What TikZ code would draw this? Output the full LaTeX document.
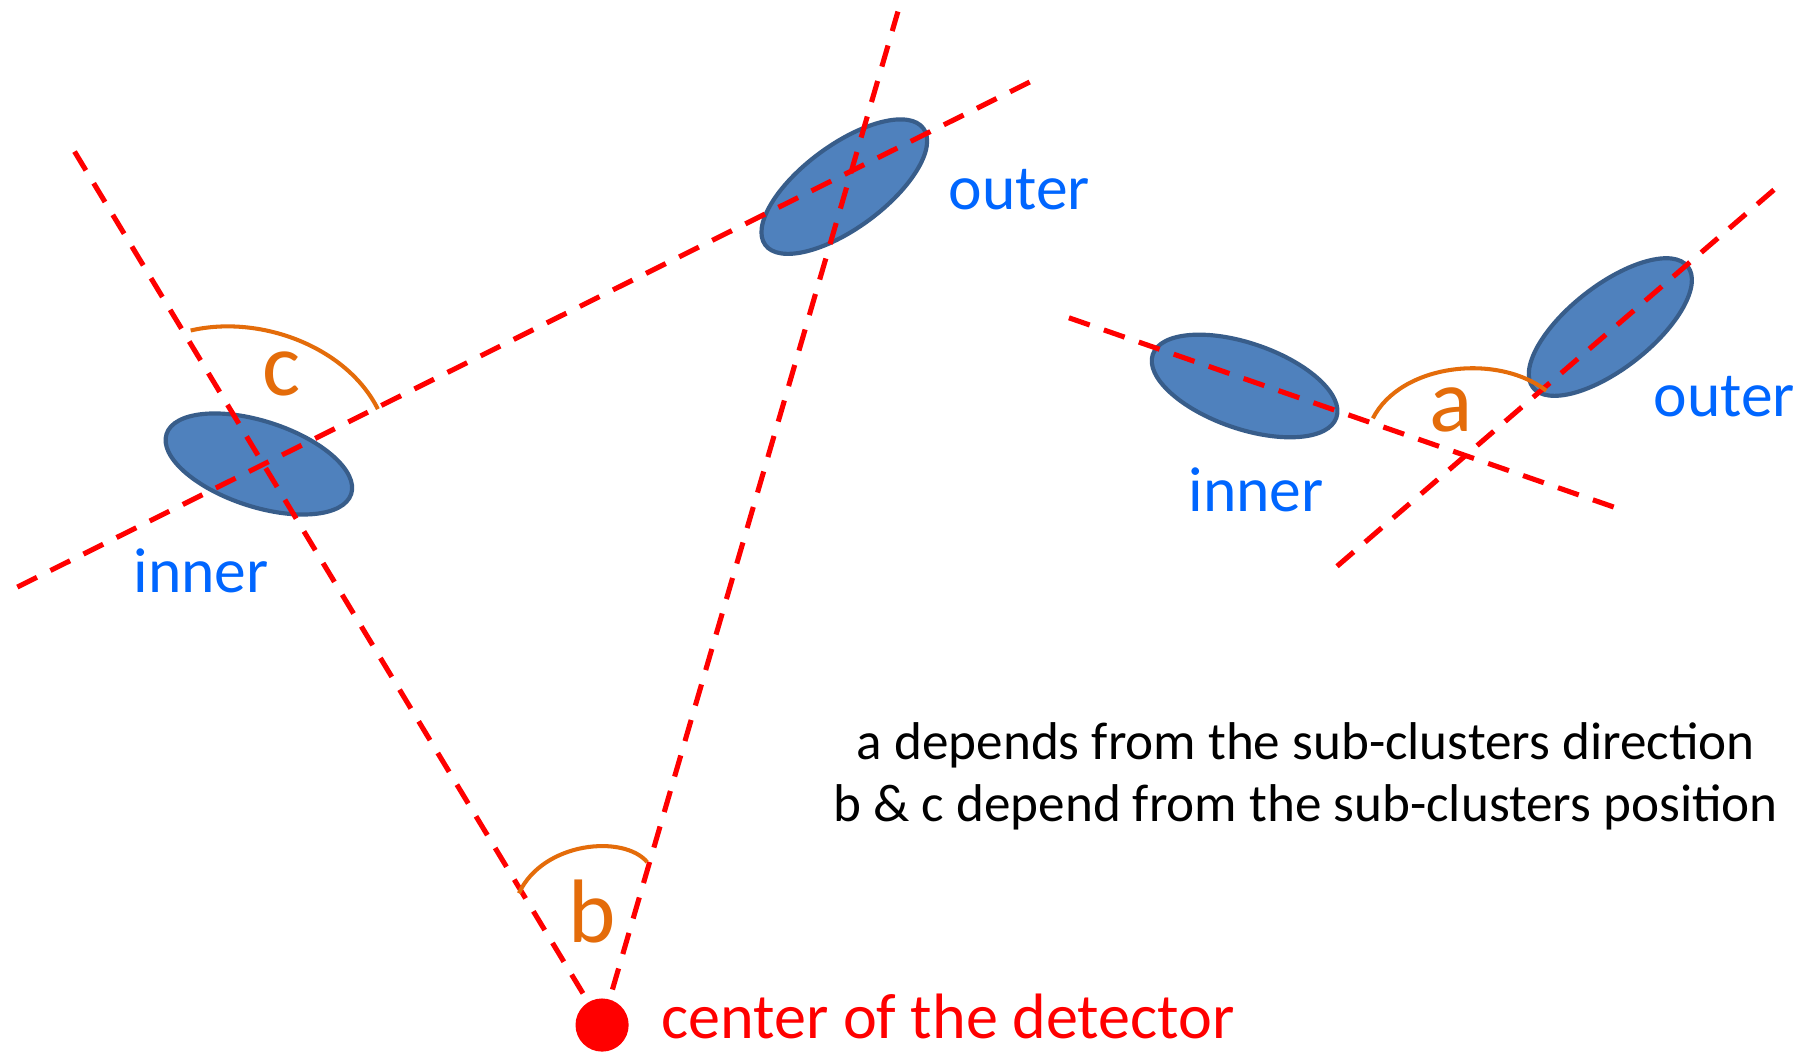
\documentclass[tikz,border=0pt]{standalone}
\usepackage{fontspec}
\setmainfont{Carlito}
\usetikzlibrary{shapes.geometric}
\definecolor{clusterFill}{HTML}{4F81BD}
\definecolor{clusterEdge}{HTML}{385D8A}
\definecolor{angleOrange}{HTML}{E46C0A}
\definecolor{labelBlue}{RGB}{0,102,255}
\tikzset{
  redline/.style={draw=red, line width=4.4pt, dash pattern=on 19pt off 13pt},
  cluster/.style={ellipse, draw=clusterEdge, fill=clusterFill, line width=3.6pt, inner sep=0pt, outer sep=0pt},
  anglearc/.style={draw=angleOrange, line width=3.5pt},
  lbl/.style={text=labelBlue, font=\fontsize{55}{60}\selectfont, inner sep=0pt, anchor=base},
  anglbl/.style={text=angleOrange, font=\fontsize{78}{90}\selectfont, inner sep=0pt, anchor=base},
  note/.style={text=black, font=\fontsize{46}{50}\selectfont, inner sep=0pt, anchor=base},
  detlbl/.style={text=red, font=\fontsize{55.5}{60}\selectfont, inner sep=0pt, anchor=base west},
}
\begin{document}
\begin{tikzpicture}[x=1pt,y=-1pt]
\clip (0,0) rectangle (1568,910);
\fill[white] (0,0) rectangle (1568,910);
% clusters
\node[cluster, minimum width=168pt, minimum height=74pt, rotate=-18] (inL) at (224,401.5) {};
\node[cluster, minimum width=170pt, minimum height=72pt, rotate=36.4] (outL) at (730.6,161.5) {};
\node[cluster, minimum width=168pt, minimum height=74pt, rotate=-19] (inR) at (1077,334) {};
\node[cluster, minimum width=170pt, minimum height=72pt, rotate=38] (outR) at (1393.5,283) {};
% detector centre
\coordinate (detc) at (521,887);
% line end points
\coordinate (l1top) at (62,127);
\coordinate (l2a) at (15,508);
\coordinate (l2b) at (899,67);
\coordinate (l3top) at (777,10);
\coordinate (r1a) at (925,275);
\coordinate (r1b) at (1400,440);
\coordinate (r2a) at (1157,490);
\coordinate (r2b) at (1540,160);
% dashed lines
\draw[redline] (detc) -- (l1top);
\draw[redline] (l2a) -- (l2b);
\draw[redline] (detc) -- (l3top);
\draw[redline] (r1a) -- (r1b);
\draw[redline] (r2a) -- (r2b);
\node[circle, fill=red, minimum size=46pt, inner sep=0pt] (det) at (detc) {};
% angle arcs
\coordinate (cA) at (165,286);
\coordinate (cB) at (327,354);
\draw[anglearc] (cA) .. controls (225,272) and (300,300) .. (cB);
\coordinate (bA) at (449,773);
\coordinate (bB) at (560,746);
\draw[anglearc] (bA) .. controls (470,728) and (540,722) .. (bB);
\coordinate (aA) at (1188,362);
\coordinate (aB) at (1338,338);
\draw[anglearc] (aA) .. controls (1212,315) and (1295,305) .. (aB);
% angle labels
\node[anglbl] (lc) at (244,342) {c};
\node[anglbl] (lb) at (512,816) {b};
\node[anglbl] (la) at (1256,373) {a};
% cluster labels
\node[lbl] (tOutL) at (882,181) {outer};
\node[lbl] (tInL) at (174,513) {inner};
\node[lbl] (tInR) at (1087,443) {inner};
\node[lbl] (tOutR) at (1492,360) {outer};
% detector label
\node[detlbl] (tdet) at (572,899) {center of the detector};
% notes
\node[note] (n1) at (1130,657) {a depends from the sub-clusters direction};
\node[note] (n2) at (1130,711) {b \& c depend from the sub-clusters position};
\end{tikzpicture}
\end{document}
